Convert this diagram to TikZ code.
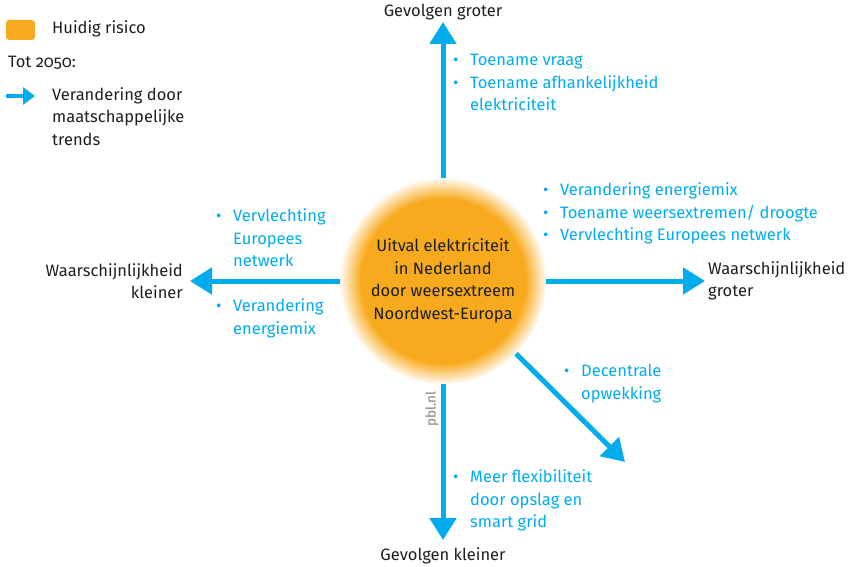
\documentclass[tikz,border=0pt]{standalone}
\usepackage{fontspec}
\setmainfont{Fira Sans}[Numbers=OldStyle]
\usepackage{tikz}
\usetikzlibrary{arrows.meta}
\definecolor{riskorange}{RGB}{248,170,30}
\definecolor{trendblue}{RGB}{0,172,236}
\definecolor{inkgrey}{RGB}{30,30,30}
\pgfdeclareradialshading{riskglow}{\pgfpoint{0bp}{0bp}}{color(0bp)=(riskorange); color(20bp)=(riskorange); color(25bp)=(riskorange!5!white); color(50bp)=(white)}
\tikzset{
	risk node/.style={circle,shading=riskglow,minimum size=206pt,inner sep=0pt,align=center,text=inkgrey},
	axis label/.style={text=inkgrey,inner sep=0pt},
	trend list/.style={text=trendblue,inner sep=0pt,anchor=north west},
	trend/.style={draw=trendblue,line width=5pt,->}
}
\newcommand{\dotb}{\makebox[17pt][l]{\textbullet}}

\begin{document}
\begin{tikzpicture}[x=1pt,y=-1pt,>={Triangle[length=22pt,width=26pt]},
       every node/.style={font=\fontsize{16.5}{22.5}\selectfont}]
	\useasboundingbox (0,0) rectangle (856,567);
	% legend
	\node[fill=riskorange,rounded corners=3pt,minimum width=29pt,minimum height=20pt,inner sep=0pt] (key) at (20.5,30) {};
	\node[axis label,anchor=west] (keytext) at (52,29) {Huidig risico};
	\node[axis label,anchor=west] (period) at (8,63) {Tot 2050:};
	\coordinate (keystart) at (6,96);
	\coordinate (keytip) at (35,96);
	\draw[trend,line width=4.5pt,-{Triangle[length=12pt,width=17pt]}] (keystart) -- (keytip);
	\node[axis label,anchor=north west,align=left] (keytrend) at (52,87) {Verandering door\\maatschappelijke\\trends};

	% current risk
	\node[risk node] (risk) at (443,281) {Uitval elektriciteit\\in Nederland\\door weersextreem\\Noordwest-Europa};

	% axes
	\node[axis label] (up) at (443,12) {Gevolgen groter};
	\node[axis label] (down) at (443,556) {Gevolgen kleiner};
	\node[axis label,anchor=east,align=right] (left) at (183,281) {Waarschijnlijkheid\\kleiner};
	\node[axis label,anchor=west,align=left] (right) at (708,281) {Waarschijnlijkheid\\groter};
	\coordinate (tipN) at (443,22);
	\coordinate (tipS) at (443,540);
	\coordinate (tipW) at (190,281);
	\coordinate (tipE) at (705,281);
	\coordinate (tipSE) at (625,462);
	\draw[trend] (risk) -- (tipN);
	\draw[trend] (risk) -- (tipS);
	\draw[trend] (risk) -- (tipW);
	\draw[trend] (risk) -- (tipE);
	\draw[trend] (risk) -- (tipSE);

	% trends
	\node[trend list] (upitems) at (453,49.6) {\begin{tabular}{@{}l@{}l@{}}
		\dotb & Toename vraag\\
		\dotb & Toename afhankelijkheid\\
		 & elektriciteit
	\end{tabular}};
	\node[trend list] (rightitems) at (543,179.6) {\begin{tabular}{@{}l@{}l@{}}
		\dotb & Verandering energiemix\\
		\dotb & Toename weersextremen/ droogte\\
		\dotb & Vervlechting Europees netwerk
	\end{tabular}};
	\node[trend list] (leftitems) at (216,205.6) {\begin{tabular}{@{}l@{}l@{}}
		\dotb & Vervlechting\\
		 & Europees\\
		 & netwerk\\
		 & \\
		\dotb & Verandering\\
		 & energiemix
	\end{tabular}};
	\node[trend list] (diagitems) at (564,360.6) {\begin{tabular}{@{}l@{}l@{}}
		\dotb & Decentrale\\
		 & opwekking
	\end{tabular}};
	\node[trend list] (downitems) at (453,466.6) {\begin{tabular}{@{}l@{}l@{}}
		\dotb & Meer flexibiliteit\\
		 & door opslag en\\
		 & smart grid
	\end{tabular}};

	\node[rotate=90,text=gray,inner sep=0pt,font=\fontsize{13.5}{13.5}\selectfont] (credit) at (432,409) {pbl.nl};
\end{tikzpicture}
\end{document}
